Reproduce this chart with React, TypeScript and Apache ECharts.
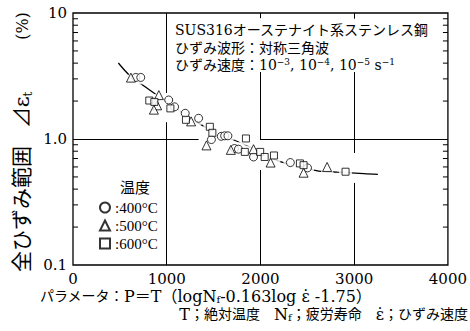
import React, { useEffect, useRef } from 'react';
import * as echarts from 'echarts';

// ---- data ----
const xTickValues = [0, 1000, 2000, 3000, 4000];
const yTickLabels: Record<string, string> = { '-1': '0.1', '0': '1.0', '1': '10' };

const circleX = [670, 723, 1021, 1084, 1197, 1340, 1477, 1582, 1618, 1653, 1723, 1765, 1926, 2319, 2502];
const circleY = [3.08, 3.08, 2.04, 1.80, 1.60, 1.46, 0.99, 1.05, 1.06, 1.06, 0.84, 0.83, 0.72, 0.65, 0.59];

const triangleX = [618, 916, 898, 863, 1260, 1424, 1684, 1926, 2108, 2460, 2711];
const triangleY = [3.07, 2.23, 1.85, 1.71, 1.38, 0.89, 0.82, 0.83, 0.65, 0.54, 0.60];

const squareX = [814, 868, 1039, 1205, 1460, 1487, 1845, 1833, 1997, 2045, 2144, 2421, 2460, 2908];
const squareY = [2.02, 1.97, 1.75, 1.42, 1.25, 1.12, 1.01, 0.79, 0.79, 0.72, 0.74, 0.64, 0.62, 0.55];

const curveX = [484, 600, 758, 863, 1389, 1863, 2221, 2621, 2821, 3105, 3253];
const curveY = [4.01, 3.22, 2.63, 2.32, 1.27, 0.88, 0.657, 0.557, 0.545, 0.532, 0.523];

const seriesNames = [':400°C', ':500°C', ':600°C'];

// grid line pieces (data coordinates) – the reference breaks them around data and text
const gridSegments: [number, number, number, number][] = [
  [1000, 0.1, 1000, 1.36], [1000, 2.32, 1000, 10],
  [2000, 0.1, 2000, 0.567], [2000, 1.0, 2000, 3.4], [2000, 9.1, 2000, 10],
  [3000, 0.1, 3000, 0.448], [3000, 0.774, 3000, 3.4], [3000, 9.0, 3000, 10],
  [0, 1, 1340, 1], [1995, 1, 4000, 1],
];

const FONT = '"DejaVu Serif", "Noto Sans CJK JP", serif';
const FONT_N = '"Liberation Serif", "Noto Sans CJK JP", serif';

const pairs = (xs: number[], ys: number[]) => xs.map((x, i) => [x, ys[i]]);

export default function App() {
  const ref = useRef<HTMLDivElement>(null);
  useEffect(() => {
    if (!ref.current) return;
    const chart = echarts.init(ref.current, undefined, { renderer: 'svg' });

    const minorTicks: number[] = [];
    [0.1, 1].forEach((d) => { for (let k = 2; k <= 9; k++) minorTicks.push(+(d * k).toFixed(2)); });

    const markerStyle = { color: '#fff', borderColor: '#000', borderWidth: 1 };
    const haloStyle = { color: '#fff', borderColor: '#fff', borderWidth: 0 };
    const sets = [
      { name: seriesNames[0], data: pairs(circleX, circleY), symbol: 'circle', size: 8 },
      { name: seriesNames[1], data: pairs(triangleX, triangleY), symbol: 'triangle', size: 9 },
      { name: seriesNames[2], data: pairs(squareX, squareY), symbol: 'rect', size: 7 },
    ];

    const series: any[] = [
      {
        type: 'line',
        data: pairs(curveX, curveY),
        smooth: 0.3,
        symbol: 'none',
        lineStyle: { color: '#000', width: 1.3 },
        z: 2,
        silent: true,
        markLine: {
          silent: true,
          symbol: 'none',
          label: { show: false },
          lineStyle: { color: '#000', width: 1, type: 'solid' },
          data: gridSegments.map((s) => [{ coord: [s[0], s[1]] }, { coord: [s[2], s[3]] }]),
        },
      },
      ...sets.map((s) => ({
        type: 'scatter', name: s.name + '_halo', data: s.data, symbol: s.symbol,
        symbolSize: s.size + 6, itemStyle: haloStyle, z: 3, silent: true,
      })),
      ...sets.map((s) => ({
        type: 'scatter', name: s.name, data: s.data, symbol: s.symbol,
        symbolSize: s.size, itemStyle: markerStyle, z: 4,
      })),
      {
        type: 'custom',
        data: minorTicks.map((v) => [0, v]),
        silent: true,
        z: 5,
        clip: false,
        renderItem: (_p: any, api: any) => {
          const v = api.value(1);
          const l = api.coord([0, v]);
          const r = api.coord([4000, v]);
          return {
            type: 'group',
            children: [
              { type: 'line', shape: { x1: l[0], y1: l[1], x2: l[0] + 5, y2: l[1] }, style: { stroke: '#000', lineWidth: 1 } },
              { type: 'line', shape: { x1: r[0] - 5, y1: r[1], x2: r[0], y2: r[1] }, style: { stroke: '#000', lineWidth: 1 } },
            ],
          };
        },
      },
    ];

    const txt = (x: number, y: number, text: string, extra: any = {}, rich: any = undefined, el: any = {}) => ({
      type: 'text', x, y, z: 10, ...el,
      style: {
        text, fill: '#000', font: `14px ${FONT}`, fontFamily: FONT, fontSize: 14,
        align: 'left', textAlign: 'left', verticalAlign: 'middle', textVerticalAlign: 'middle',
        rich, ...extra,
      },
    });

    const supRich = {
      s: { fontSize: 9, fontFamily: FONT, verticalAlign: 'top', lineHeight: 16 },
      b: { fontSize: 14, fontFamily: FONT, lineHeight: 16 },
    };
    const subRich = {
      f: { fontSize: 10, fontFamily: FONT, verticalAlign: 'bottom', lineHeight: 16 },
      b: { fontSize: 14, fontFamily: FONT, lineHeight: 16 },
      l: { fontSize: 16, fontFamily: FONT, lineHeight: 16 },
    };

    chart.setOption({
      animation: false,
      backgroundColor: '#fff',
      grid: { left: 73, top: 13, width: 380, height: 252, show: true, borderColor: '#000', borderWidth: 1.3, backgroundColor: 'transparent' },
      xAxis: {
        type: 'value', min: 0, max: 4000, interval: 1000,
        axisLine: { show: false }, axisTick: { show: false }, splitLine: { show: false },
        axisLabel: {
          color: '#000', fontFamily: FONT, fontSize: 15, margin: 6,
          formatter: (v: number) => String(xTickValues.find((t) => t === v) ?? v),
        },
      },
      yAxis: {
        type: 'log', logBase: 10, min: 0.1, max: 10,
        axisLine: { show: false }, axisTick: { show: false }, splitLine: { show: false }, minorTick: { show: false },
        axisLabel: {
          color: '#000', fontFamily: FONT, fontSize: 15, margin: 6,
          formatter: (v: number) => yTickLabels[String(Math.round(Math.log10(v)))] ?? '',
        },
      },
      legend: {
        data: seriesNames,
        orient: 'vertical', left: 99, top: 200, itemWidth: 10, itemHeight: 10, itemGap: 3, padding: 0,
        textStyle: { color: '#000', fontFamily: FONT_N, fontSize: 15 },
        selectedMode: false,
      },
      series,
      graphic: [
        txt(175, 30, 'SUS316オーステナイト系ステンレス鋼'),
        txt(175, 47.5, 'ひずみ波形：対称三角波'),
        txt(175, 65, '{b|ひずみ速度：10}{s|−3}{b|, 10}{s|−4}{b|, 10}{s|−5}{b| s}{s|−1}', {}, supRich),
        txt(120, 188, '温度', { fontSize: 15, font: `15px ${FONT}` }),
        txt(40, 296, '{b|パラメータ：}{l|P＝T（logN}{f|f}{l|-0.163log ε\u0307 -1.75）}', {}, subRich),
        txt(468, 314, '{l|T}{b|；絶対温度　}{l|N}{f|f}{b|；疲労寿命　}{l|ε\u0307}{b|；ひずみ速度}', { align: 'right', textAlign: 'right' }, subRich),
        txt(0, 0, '全ひずみ範囲', { font: `21px ${FONT}`, fontSize: 21, align: 'center', textAlign: 'center' }, undefined, { x: 22, y: 209, rotation: Math.PI / 2 }),
        txt(0, 0, '{b|⊿ε}{f|t}', { align: 'center', textAlign: 'center' }, { b: { fontSize: 21, fontFamily: FONT, lineHeight: 24 }, f: { fontSize: 12, fontFamily: FONT, verticalAlign: 'bottom', lineHeight: 24 } }, { x: 22, y: 110, rotation: Math.PI / 2 }),
        txt(0, 0, '(%)', { font: `16px ${FONT}`, fontSize: 16, align: 'center', textAlign: 'center' }, undefined, { x: 22, y: 26, rotation: Math.PI / 2 }),
      ],
    });
    return () => chart.dispose();
  }, []);
  return <div ref={ref} style={{ width: 470, height: 331, position: 'absolute', left: 0, top: 0 }} />;
}
